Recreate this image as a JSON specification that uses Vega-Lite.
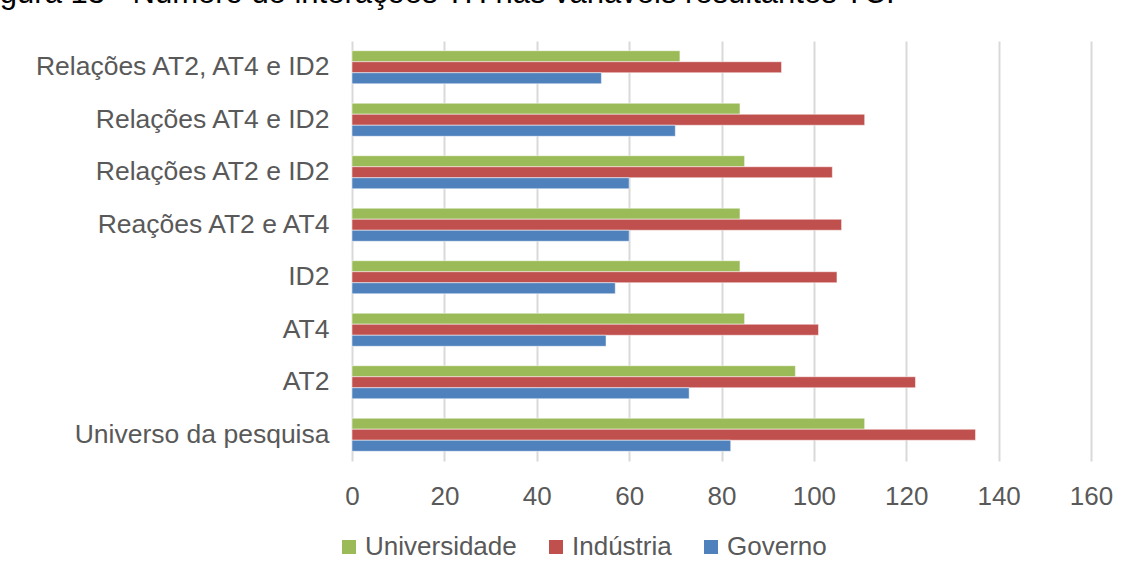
{
  "$schema": "https://vega.github.io/schema/vega-lite/v6.json",
  "width": 739,
  "height": 420,
  "autosize": {"type": "none"},
  "padding": {"left": 352, "top": 41, "right": 40, "bottom": 116},
  "background": "white",
  "title": {
    "text": "Figura 13 - Número de interações TH nas variáveis resultantes TCI",
    "anchor": "start",
    "frame": "group",
    "orient": "top",
    "baseline": "alphabetic",
    "offset": 0,
    "dy": -7,
    "dx": -378,
    "font": "Liberation Sans",
    "fontSize": 31,
    "fontWeight": "normal",
    "color": "#000000"
  },
  "data": {
    "values": [
      {"cat": "Relações AT2, AT4 e ID2", "serie": "Universidade", "v": 71},
      {"cat": "Relações AT2, AT4 e ID2", "serie": "Indústria", "v": 93},
      {"cat": "Relações AT2, AT4 e ID2", "serie": "Governo", "v": 54},
      {"cat": "Relações AT4 e ID2", "serie": "Universidade", "v": 84},
      {"cat": "Relações AT4 e ID2", "serie": "Indústria", "v": 111},
      {"cat": "Relações AT4 e ID2", "serie": "Governo", "v": 70},
      {"cat": "Relações AT2 e ID2", "serie": "Universidade", "v": 85},
      {"cat": "Relações AT2 e ID2", "serie": "Indústria", "v": 104},
      {"cat": "Relações AT2 e ID2", "serie": "Governo", "v": 60},
      {"cat": "Reações AT2 e AT4", "serie": "Universidade", "v": 84},
      {"cat": "Reações AT2 e AT4", "serie": "Indústria", "v": 106},
      {"cat": "Reações AT2 e AT4", "serie": "Governo", "v": 60},
      {"cat": "ID2", "serie": "Universidade", "v": 84},
      {"cat": "ID2", "serie": "Indústria", "v": 105},
      {"cat": "ID2", "serie": "Governo", "v": 57},
      {"cat": "AT4", "serie": "Universidade", "v": 85},
      {"cat": "AT4", "serie": "Indústria", "v": 101},
      {"cat": "AT4", "serie": "Governo", "v": 55},
      {"cat": "AT2", "serie": "Universidade", "v": 96},
      {"cat": "AT2", "serie": "Indústria", "v": 122},
      {"cat": "AT2", "serie": "Governo", "v": 73},
      {"cat": "Universo da pesquisa", "serie": "Universidade", "v": 111},
      {"cat": "Universo da pesquisa", "serie": "Indústria", "v": 135},
      {"cat": "Universo da pesquisa", "serie": "Governo", "v": 82}
    ]
  },
  "mark": {"type": "bar", "stroke": "white", "strokeOpacity": 0.5, "strokeWidth": 1},
  "encoding": {
    "y": {
      "field": "cat",
      "type": "nominal",
      "sort": ["Relações AT2, AT4 e ID2", "Relações AT4 e ID2", "Relações AT2 e ID2", "Reações AT2 e AT4", "ID2", "AT4", "AT2", "Universo da pesquisa"],
      "scale": {"paddingInner": 0.37, "paddingOuter": 0.185},
      "axis": {
        "title": null,
        "domain": false,
        "ticks": false,
        "labelFont": "Liberation Sans",
        "labelFontSize": 26.5,
        "labelColor": "#595959",
        "labelPadding": 23,
        "labelLimit": 400
      }
    },
    "yOffset": {
      "field": "serie",
      "type": "nominal",
      "sort": ["Universidade", "Indústria", "Governo"],
      "scale": {"paddingInner": 0, "paddingOuter": 0}
    },
    "x": {
      "field": "v",
      "type": "quantitative",
      "scale": {"domain": [0, 160], "nice": false},
      "axis": {
        "title": null,
        "values": [0, 20, 40, 60, 80, 100, 120, 140, 160],
        "domain": false,
        "ticks": false,
        "grid": true,
        "gridColor": "#D9D9D9",
        "gridWidth": 2,
        "labelFont": "Liberation Sans",
        "labelFontSize": 26,
        "labelColor": "#595959",
        "labelPadding": 22,
        "labelFlush": false
      }
    },
    "color": {
      "field": "serie",
      "type": "nominal",
      "sort": ["Universidade", "Indústria", "Governo"],
      "scale": {"domain": ["Universidade", "Indústria", "Governo"], "range": ["#9BBB59", "#C0504D", "#4F81BD"]},
      "legend": {
        "title": null,
        "orient": "none",
        "direction": "horizontal",
        "legendX": -16,
        "legendY": 493,
        "symbolType": "square",
        "symbolSize": 196,
        "symbolStrokeWidth": 0,
        "labelFont": "Liberation Sans",
        "labelFontSize": 26,
        "labelColor": "#595959",
        "labelOffset": 3,
        "columnPadding": 26
      }
    }
  },
  "config": {
    "view": {"stroke": null}
  }
}
